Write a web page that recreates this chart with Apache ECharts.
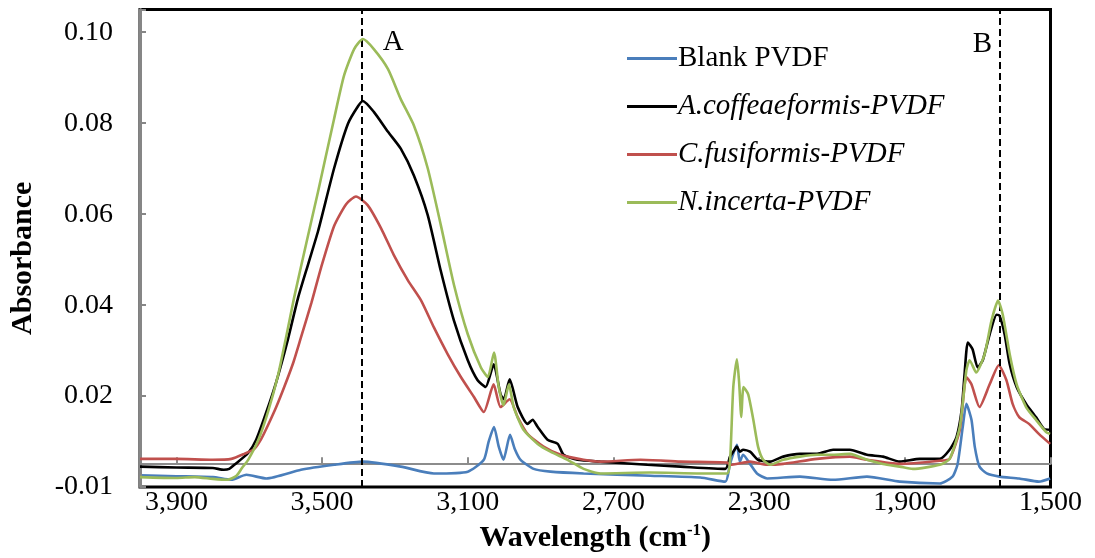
<!DOCTYPE html>
<html>
<head>
<meta charset="utf-8">
<script src="https://cdn.jsdelivr.net/npm/echarts@6/dist/echarts.min.js"></script>
<style>
html,body{margin:0;padding:0;background:#fff;}
#chart{width:1095px;height:558px;}
</style>
</head>
<body>
<div id="chart"></div>
<script>
// ---- Data (wavenumber in cm-1, absorbance) ----
const wnTicks = [1500, 1900, 2300, 2700, 3100, 3500, 3900];
const wnTickLabels = ['1,500', '1,900', '2,300', '2,700', '3,100', '3,500', '3,900'];
const absTicks = [0, 0.02, 0.04, 0.06, 0.08, 0.10];
const absTickLabels = ['-0.01', '0.02', '0.04', '0.06', '0.08', '0.10'];
const seriesNames = ['Blank PVDF', 'A.coffeaeformis-PVDF', 'C.fusiformis-PVDF', 'N.incerta-PVDF'];
const peakA = 3390;
const peakB = 1640;
const baseline = 0.005;

const blankWn = [4000,3900,3800,3749,3708,3653,3558,3467,3388,3284,3193,3100,3056,3043,3028,3015,3002,2984,2971,2955,2919,2873,2782,2599,2462,2393,2380,2361,2353,2344,2325,2306,2278,2188,2097,2004,1914,1804,1769,1755,1741,1731,1717,1708,1695,1675,1640,1586,1532,1501];
const blankAbs = [0.0026,0.0024,0.0022,0.0016,0.0027,0.0019,0.0038,0.0049,0.0056,0.0045,0.0030,0.0034,0.0060,0.0099,0.0132,0.0089,0.0060,0.0115,0.0084,0.0060,0.0040,0.0034,0.0030,0.0025,0.0021,0.0012,0.0051,0.0093,0.0056,0.0071,0.0051,0.0030,0.0019,0.0023,0.0016,0.0023,0.0012,0.0008,0.0023,0.0051,0.0132,0.0183,0.0148,0.0089,0.0045,0.0030,0.0023,0.0019,0.0012,0.0019];

const coffWn = [4000,3900,3800,3770,3755,3741,3703,3681,3653,3626,3596,3566,3538,3511,3467,3429,3401,3388,3358,3319,3284,3248,3210,3174,3138,3100,3073,3051,3029,3010,3001,2985,2963,2936,2922,2908,2881,2853,2837,2799,2736,2607,2516,2393,2380,2371,2361,2353,2344,2325,2303,2270,2234,2188,2141,2097,2051,2004,1960,1914,1859,1804,1777,1758,1744,1736,1727,1714,1700,1686,1667,1648,1640,1626,1612,1593,1567,1540,1518,1501];
const coffAbs = [0.0045,0.0043,0.0042,0.0038,0.0040,0.0049,0.0075,0.0104,0.0165,0.0231,0.0318,0.0416,0.0491,0.0563,0.0701,0.0799,0.0838,0.0849,0.0825,0.0781,0.0744,0.0685,0.0598,0.0475,0.0366,0.0279,0.0235,0.0220,0.0270,0.0204,0.0193,0.0237,0.0176,0.0139,0.0148,0.0132,0.0104,0.0095,0.0071,0.0060,0.0056,0.0049,0.0045,0.0040,0.0067,0.0078,0.0089,0.0078,0.0082,0.0078,0.0060,0.0056,0.0067,0.0073,0.0073,0.0082,0.0082,0.0071,0.0067,0.0056,0.0062,0.0062,0.0082,0.0110,0.0169,0.0248,0.0318,0.0303,0.0263,0.0279,0.0336,0.0379,0.0377,0.0336,0.0270,0.0220,0.0183,0.0154,0.0128,0.0126];

const fusiWn = [4000,3900,3800,3749,3714,3686,3667,3648,3626,3604,3579,3558,3529,3503,3467,3434,3407,3375,3338,3303,3264,3228,3193,3155,3119,3083,3056,3029,3010,2985,2963,2936,2892,2845,2782,2736,2626,2516,2388,2380,2325,2278,2234,2141,2051,2004,1914,1804,1777,1749,1731,1717,1695,1667,1642,1621,1604,1586,1559,1532,1501];
const fusiAbs = [0.0062,0.0062,0.0060,0.0062,0.0073,0.0084,0.0106,0.0137,0.0176,0.0220,0.0274,0.0329,0.0406,0.0482,0.0574,0.0622,0.0639,0.0620,0.0569,0.0510,0.0454,0.0410,0.0351,0.0292,0.0242,0.0198,0.0165,0.0226,0.0176,0.0193,0.0154,0.0117,0.0089,0.0071,0.0060,0.0056,0.0060,0.0056,0.0054,0.0049,0.0056,0.0049,0.0051,0.0062,0.0067,0.0060,0.0051,0.0058,0.0062,0.0126,0.0242,0.0226,0.0176,0.0226,0.0268,0.0235,0.0183,0.0154,0.0139,0.0117,0.0095];

const incWn = [4000,3900,3850,3800,3760,3735,3720,3703,3675,3648,3621,3599,3577,3544,3511,3467,3440,3412,3388,3358,3319,3284,3248,3210,3174,3138,3100,3064,3045,3028,3015,3002,2987,2974,2947,2908,2873,2826,2782,2736,2599,2462,2388,2380,2371,2361,2355,2349,2343,2330,2316,2303,2289,2270,2234,2188,2141,2097,2051,2004,1960,1914,1878,1804,1777,1749,1731,1722,1704,1681,1662,1644,1631,1612,1593,1567,1540,1512,1501];
const incAbs = [0.0022,0.0020,0.0022,0.0018,0.0016,0.0025,0.0042,0.0060,0.0104,0.0167,0.0246,0.0329,0.0416,0.0534,0.0650,0.0810,0.0904,0.0963,0.0985,0.0963,0.0919,0.0853,0.0795,0.0701,0.0576,0.0445,0.0336,0.0263,0.0242,0.0296,0.0220,0.0180,0.0226,0.0176,0.0126,0.0095,0.0078,0.0060,0.0040,0.0030,0.0032,0.0030,0.0030,0.0056,0.0220,0.0281,0.0231,0.0154,0.0220,0.0204,0.0148,0.0089,0.0060,0.0049,0.0060,0.0067,0.0071,0.0071,0.0073,0.0060,0.0051,0.0045,0.0040,0.0049,0.0062,0.0132,0.0257,0.0279,0.0252,0.0292,0.0366,0.0410,0.0379,0.0292,0.0226,0.0176,0.0148,0.0121,0.0117];

// ---- Build ----
const X0 = 1500, X1 = 4000, XSTEP = 400;   // axis counted from X0 so ticks land on 1,500 + k*400
const YMAX = 0.105;
const FONT = "'Liberation Serif','Times New Roman',serif";
const colors = ['#4A7EBB', '#000000', '#C0504D', '#9BBB59'];
function pairs(wn, ab) { return wn.map((w, i) => [w - X0, ab[i]]); }
const dataSets = [pairs(blankWn, blankAbs), pairs(coffWn, coffAbs), pairs(fusiWn, fusiAbs), pairs(incWn, incAbs)];

function xLabel(v) {
  const i = wnTicks.indexOf(Math.round(v + X0));
  return i >= 0 ? wnTickLabels[i] : '';
}
function yLabel(v) {
  for (let i = 0; i < absTicks.length; i++) if (Math.abs(v - absTicks[i]) < 1e-9) return absTickLabels[i];
  return '';
}

const chart = echarts.init(document.getElementById('chart'), null, {renderer: 'canvas'});
const gridTop = 9.5, gridBottom = 68.5;
const gridH = 558 - gridTop - gridBottom;
const baseOffset = -(baseline / YMAX) * gridH;

const series = seriesNames.map((name, i) => ({
  name: name,
  type: 'line',
  data: dataSets[i],
  symbol: 'none',
  smooth: 0.2,
  lineStyle: {color: colors[i], width: 2.6},
  itemStyle: {color: colors[i]},
  z: 2 + i,
  silent: true,
  animation: false
}));
series[3].markLine = {
  silent: true,
  symbol: ['none', 'none'],
  label: {show: false},
  lineStyle: {color: '#000', type: [7, 4], width: 2},
  data: [{xAxis: peakA - X0}, {xAxis: peakB - X0}],
  animation: false
};
series[3].markPoint = {
  silent: true,
  symbol: 'rect',
  symbolSize: 1,
  itemStyle: {color: 'rgba(0,0,0,0)'},
  label: {show: true, position: 'inside', color: '#000', fontFamily: FONT, fontSize: 29},
  data: [
    {coord: [peakA - X0, 0.0977], label: {formatter: 'A', offset: [31, 0]}},
    {coord: [peakB - X0, 0.0973], label: {formatter: 'B', offset: [-17, 0]}}
  ],
  animation: false
};

chart.setOption({
  backgroundColor: '#fff',
  animation: false,
  grid: {left: 139, right: 44.5, top: gridTop, bottom: gridBottom, show: true,
         borderColor: '#000', borderWidth: 3, backgroundColor: 'transparent'},
  legend: {
    orient: 'vertical', left: 622, top: 39,
    icon: 'rect', itemWidth: 50, itemHeight: 3, itemGap: 19,
    textStyle: {fontFamily: FONT, fontSize: 29, color: '#000', padding: [0, 0, 0, -4], lineHeight: 28},
    data: [
      {name: seriesNames[0]},
      {name: seriesNames[1], textStyle: {fontStyle: 'italic'}},
      {name: seriesNames[2], textStyle: {fontStyle: 'italic'}},
      {name: seriesNames[3], textStyle: {fontStyle: 'italic'}}
    ]
  },
  xAxis: [
    {
      type: 'value', inverse: true, min: 0, max: X1 - X0, interval: XSTEP,
      position: 'bottom',
      axisLine: {show: false, onZero: false}, axisTick: {show: false}, splitLine: {show: false},
      axisLabel: {formatter: xLabel, fontFamily: FONT, fontSize: 28, color: '#000', margin: 2},
      name: '{b|Wavelength (cm}{s|-1}{b|)}',
      nameLocation: 'middle', nameGap: 29,
      nameTextStyle: {
        rich: {
          b: {fontFamily: FONT, fontSize: 30, fontWeight: 'bold', color: '#000', lineHeight: 32},
          s: {fontFamily: FONT, fontSize: 17, fontWeight: 'bold', color: '#000', verticalAlign: 'top', lineHeight: 32, padding: [0, 0, 10, 0]}
        }
      }
    },
    {
      type: 'value', inverse: true, min: 0, max: X1 - X0, interval: XSTEP,
      position: 'bottom', offset: baseOffset, z: 1,
      axisLine: {show: true, onZero: false, lineStyle: {color: '#8C8C8C', width: 2}},
      axisTick: {show: true, inside: true, length: 7, lineStyle: {color: '#8C8C8C', width: 2}},
      axisLabel: {show: false}, splitLine: {show: false}
    }
  ],
  yAxis: {
    type: 'value', min: 0, max: YMAX, interval: 0.02, z: 3, position: 'left',
    axisLine: {show: true, onZero: false, lineStyle: {color: '#868686', width: 3}},
    axisTick: {show: true, inside: true, length: 6, lineStyle: {color: '#868686', width: 2}},
    splitLine: {show: false},
    axisLabel: {formatter: yLabel, fontFamily: FONT, fontSize: 28, color: '#000', margin: 27},
    name: 'Absorbance', nameLocation: 'middle', nameGap: 102, nameRotate: 90,
    nameTextStyle: {fontFamily: FONT, fontSize: 30, fontWeight: 'bold', color: '#000', padding: [0, 20, 0, 0]}
  },
  series: series
});
</script>
</body>
</html>
